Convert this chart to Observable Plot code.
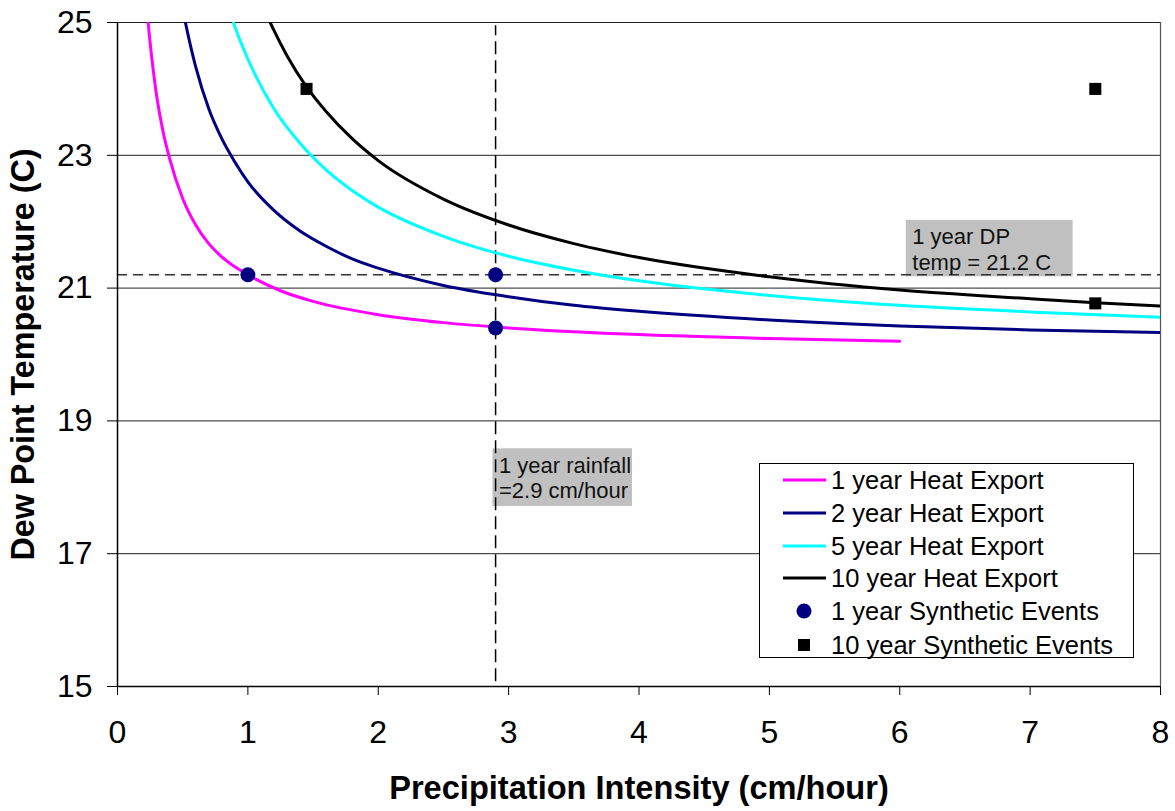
<!DOCTYPE html>
<html>
<head>
<meta charset="utf-8">
<script src="https://cdn.jsdelivr.net/npm/d3@7"></script>
<script src="https://cdn.jsdelivr.net/npm/@observablehq/plot@0.6"></script>
<style>
  body { margin: 0; background: #fff; }
  #wrap { position: relative; width: 1175px; height: 811px; font-family: "Liberation Sans", Arial, sans-serif; }
  #legend { position: absolute; left: 759px; top: 463px; width: 373px; height: 193px; border: 1px solid #000; background: #fff; }
  .row { position: absolute; left: 0; height: 32px; display: flex; align-items: center; font-size: 25.5px; color: #000; white-space: nowrap; }
  .row svg { margin-left: 23px; margin-right: 5px; }
</style>
</head>
<body>
<div id="wrap"></div>
<script>
// ---- Data ----
const seriesNames = ["1 year Heat Export", "2 year Heat Export", "5 year Heat Export", "10 year Heat Export"];
const seriesColors = ["#ff00ff", "#000080", "#00ffff", "#000000"];

const x1yr = [0.22, 0.25, 0.3, 0.35, 0.4, 0.5, 0.6, 0.7, 0.8, 0.9, 1.0, 1.25, 1.5, 2.0, 2.5, 3.0, 4.0, 5.0, 6.0];
const y1yr = [25.3, 24.7, 23.9, 23.35, 22.95, 22.35, 21.95, 21.67, 21.47, 21.32, 21.2, 20.96, 20.8, 20.6, 20.48, 20.4, 20.3, 20.24, 20.2];

const x2yr = [0.48, 0.5, 0.6, 0.7, 0.8, 0.9, 1.0, 1.2, 1.4, 1.6, 1.8, 2.0, 2.5, 3.0, 3.5, 4.0, 5.0, 6.0, 7.0, 8.0];
const y2yr = [25.4, 25.2, 24.33, 23.7, 23.25, 22.9, 22.6, 22.17, 21.86, 21.63, 21.44, 21.3, 21.04, 20.87, 20.74, 20.65, 20.52, 20.43, 20.37, 20.33];

const x5yr = [0.85, 0.9, 1.0, 1.2, 1.4, 1.6, 1.8, 2.0, 2.5, 3.0, 3.5, 4.0, 5.0, 6.0, 7.0, 8.0];
const y5yr = [25.24, 24.94, 24.45, 23.7, 23.18, 22.78, 22.47, 22.22, 21.78, 21.48, 21.27, 21.11, 20.89, 20.74, 20.64, 20.56];

const x10yr = [1.12, 1.2, 1.3, 1.45, 1.6, 1.8, 2.0, 2.5, 3.0, 3.5, 4.0, 5.0, 6.0, 7.0, 7.5, 8.0];
const y10yr = [25.22, 24.88, 24.5, 24.03, 23.66, 23.25, 22.92, 22.34, 21.95, 21.67, 21.46, 21.17, 20.97, 20.84, 20.78, 20.73];

const event1X = [1.0, 2.9, 2.9];
const event1Y = [21.2, 21.2, 20.4];
const event10X = [1.45, 7.5, 7.5];
const event10Y = [24.0, 24.0, 20.77];

const dpTemp = 21.2;       // 1 year DP temperature
const rainfall = 2.9;      // 1 year rainfall

const xTicks = [0, 1, 2, 3, 4, 5, 6, 7, 8];
const yTicks = [15, 17, 19, 21, 23, 25];
const gridY = [17, 19, 21, 23, 25];

const annotations = [
  { x1: 6.05, x2: 7.33, y1: 21.17, y2: 22.02, text: "1 year DP\ntemp = 21.2 C" },
  { x1: 2.88, x2: 3.95, y1: 17.71, y2: 18.58, text: "1 year rainfall\n=2.9 cm/hour" }
];

const xTitle = "Precipitation Intensity (cm/hour)";
const yTitle = "Dew Point Temperature (C)";

// ---- Build table ----
const allX = [x1yr, x2yr, x5yr, x10yr];
const allY = [y1yr, y2yr, y5yr, y10yr];
const curves = seriesNames.flatMap((name, i) => allX[i].map((x, j) => ({ series: name, x, y: allY[i][j] })));
const ev1 = event1X.map((x, i) => ({ x, y: event1Y[i] }));
const ev10 = event10X.map((x, i) => ({ x, y: event10Y[i] }));

const font = "'Liberation Sans', Arial, sans-serif";

const chart = Plot.plot({
  width: 1175,
  height: 811,
  marginLeft: 117,
  marginRight: 15,
  marginTop: 22,
  marginBottom: 125,
  x: { domain: [0, 8] },
  y: { domain: [15, 25] },
  color: { domain: seriesNames, range: seriesColors },
  style: { fontFamily: font, background: "#fff", overflow: "visible" },
  marks: [
    Plot.ruleY(gridY, { stroke: "#222", strokeWidth: 1 }),
    Plot.ruleX([8], { stroke: "#555", strokeWidth: 1.2 }),
    Plot.rect(annotations, { x1: "x1", x2: "x2", y1: "y1", y2: "y2", fill: "#c0c0c0" }),
    Plot.ruleY([dpTemp], { stroke: "#333", strokeWidth: 1.5, strokeDasharray: "10,6" }),
    Plot.ruleX([rainfall], { y1: 15.07, y2: 24.95, stroke: "#000", strokeWidth: 1.5, strokeDasharray: "13,6" }),
    Plot.text(annotations, { x: "x1", y: "y2", text: "text", textAnchor: "start", lineAnchor: "top", dx: 6, dy: 6, fontSize: 22, lineHeight: 1.15, fill: "#111" }),
    Plot.line(curves, { x: "x", y: "y", z: "series", stroke: "series", strokeWidth: 3, clip: true, curve: "monotone-x" }),
    Plot.dot(ev1, { x: "x", y: "y", r: 7.5, fill: "#000080", symbol: "circle" }),
    Plot.dot(ev10, { x: "x", y: "y", r: 6.8, fill: "#000", symbol: "square" }),
    Plot.ruleX([0], { stroke: "#000", strokeWidth: 1.5 }),
    Plot.ruleY([15], { stroke: "#000", strokeWidth: 1.5 }),
    Plot.axisX({ ticks: xTicks, tickSize: 9, tickPadding: 25, fontSize: 32, label: null, stroke: "#000" }),
    Plot.axisY({ ticks: yTicks, tickSize: 10, tickPadding: 15, fontSize: 32, label: null, stroke: "#000" }),
    Plot.text([xTitle], { text: d => d, frameAnchor: "bottom", dy: 102, fontSize: 32.6, fontWeight: "bold", lineAnchor: "middle", fill: "#000" }),
    Plot.text([yTitle], { text: d => d, frameAnchor: "left", textAnchor: "middle", lineAnchor: "middle", dx: -94, rotate: -90, fontSize: 32.3, fontWeight: "bold", fill: "#000" })
  ]
});

const wrap = document.getElementById("wrap");
wrap.appendChild(chart);

// ---- Legend (HTML) ----
const legend = document.createElement("div");
legend.id = "legend";
const legendItems = [
  ...seriesNames.map((n, i) => ({ label: n, kind: "line", color: seriesColors[i] })),
  { label: "1 year Synthetic Events", kind: "circle", color: "#000080" },
  { label: "10 year Synthetic Events", kind: "square", color: "#000" }
];
const rowCenters = [16, 49, 82, 114, 147, 181];
legendItems.forEach((it, i) => {
  const row = document.createElement("div");
  row.className = "row";
  row.style.top = (rowCenters[i] - 16) + "px";
  let sw;
  if (it.kind === "line") sw = `<svg width="43" height="10"><line x1="0" x2="43" y1="5" y2="5" stroke="${it.color}" stroke-width="3"/></svg>`;
  else if (it.kind === "circle") sw = `<svg width="43" height="16"><circle cx="21" cy="8" r="7.5" fill="${it.color}"/></svg>`;
  else sw = `<svg width="43" height="16"><rect x="15" y="2" width="12" height="12" fill="${it.color}"/></svg>`;
  row.innerHTML = sw + `<span>${it.label}</span>`;
  legend.appendChild(row);
});
wrap.appendChild(legend);
</script>
</body>
</html>
